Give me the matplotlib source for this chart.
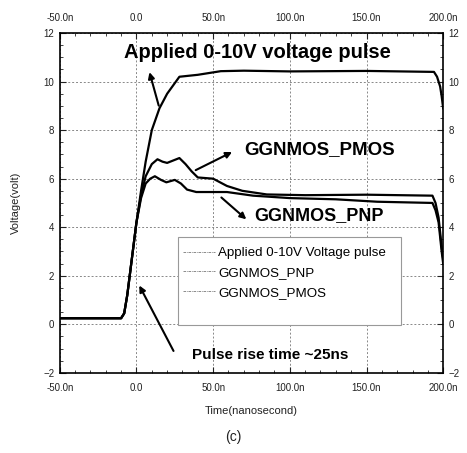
import matplotlib.pyplot as plt
from matplotlib.ticker import MultipleLocator
from matplotlib.patches import Rectangle

plt.rcParams['font.family'] = ['Liberation Sans', 'DejaVu Sans']

# time in ns, voltage in V
t_pulse = [-50, -10, -8, -6, -4, -2, 0, 3, 6, 10, 15, 20, 28, 40, 55, 70, 100, 150, 194, 196, 198, 199, 200]
v_pulse = [0.25, 0.25, 0.45, 1.2, 2.2, 3.2, 4.2, 5.5, 6.7, 8.0, 8.9, 9.5, 10.2, 10.28, 10.43, 10.45, 10.42, 10.44, 10.4, 10.2, 9.8, 9.4, 8.9]

t_pnp = [-50, -10, -8, -6, -4, -2, 0, 3, 6, 9, 12, 16, 19.5, 25, 29, 33, 39, 48, 59, 76, 100, 130, 157, 193, 195, 197, 198, 199, 200]
v_pnp = [0.25, 0.25, 0.45, 1.2, 2.2, 3.2, 4.2, 5.2, 5.8, 6.0, 6.1, 5.95, 5.85, 5.95, 5.8, 5.55, 5.45, 5.45, 5.45, 5.3, 5.2, 5.15, 5.05, 5.0, 4.7, 4.2, 3.6, 3.0, 2.5]

t_pmos = [-50, -10, -8, -6, -4, -2, 0, 3, 6, 10, 13.7, 17, 20, 24, 28, 32, 36, 40, 50, 59, 69, 85, 110, 150, 193, 195, 197, 198, 199, 200]
v_pmos = [0.25, 0.25, 0.45, 1.2, 2.2, 3.2, 4.2, 5.3, 6.1, 6.6, 6.8, 6.7, 6.65, 6.75, 6.85, 6.6, 6.3, 6.05, 6.0, 5.7, 5.5, 5.35, 5.32, 5.34, 5.3, 5.0, 4.4, 3.8, 3.2, 2.7]

x_ticks = [-50, 0, 50, 100, 150, 200]
x_labels = ['-50.0n', '0.0', '50.0n', '100.0n', '150.0n', '200.0n']
y_ticks = [-2, 0, 2, 4, 6, 8, 10, 12]

fig = plt.figure(figsize=(4.67, 4.53), dpi=100)
ax = fig.add_axes([0.128, 0.177, 0.821, 0.75])

ax.plot(t_pulse, v_pulse, color='black', lw=1.6, label='Applied 0-10V Voltage pulse')
ax.plot(t_pnp, v_pnp, color='black', lw=1.6, label='GGNMOS_PNP')
ax.plot(t_pmos, v_pmos, color='black', lw=1.6, label='GGNMOS_PMOS')

ax.set_xlim(-50, 200)
ax.set_ylim(-2, 12)
ax.set_xticks(x_ticks)
ax.set_xticklabels(x_labels)
ax.set_yticks(y_ticks)
ax.xaxis.set_minor_locator(MultipleLocator(10))
ax.yaxis.set_minor_locator(MultipleLocator(0.5))
ax.tick_params(which='both', direction='in', top=True, right=True,
               labeltop=True, labelright=True, labelsize=7, colors='#222222')
ax.tick_params(axis='x', which='major', pad=7)
ax.tick_params(axis='y', which='major', pad=4)
ax.tick_params(which='major', length=4)
ax.tick_params(which='minor', length=2)
ax.grid(True, which='major', color='#888888', linestyle=(0, (2, 2)), lw=0.7)
for s in ax.spines.values():
    s.set_linewidth(1.2)

ax.set_xlabel('Time(nanosecond)', fontsize=8, color='#222222', labelpad=10)
ax.set_ylabel('Voltage(volt)', fontsize=8, color='#222222', labelpad=16)

# legend box is taller than its entries in the original
ax.add_patch(Rectangle((26.8, -0.04), 146, 3.63, facecolor='white', edgecolor='#999999',
                       lw=0.8, zorder=4))
leg = ax.legend(loc='upper left', bbox_to_anchor=(0.305, 0.39), fontsize=9.6,
                frameon=False, handlelength=2.4, borderpad=0.5, labelspacing=0.55,
                handletextpad=0.2, borderaxespad=0)
leg.set_zorder(5)
for line in leg.get_lines():
    line.set_color('#777777')
    line.set_linewidth(0.6)
    line.set_linestyle((0, (3, 1, 1, 1)))

bold = dict(fontweight='bold', color='black')
ax.text(-8, 11.2, 'Applied 0-10V voltage pulse', fontsize=14.5, va='center', ha='left', **bold)
ax.annotate('', xy=(8, 10.5), xytext=(15, 8.9),
            arrowprops=dict(arrowstyle='-|>', color='black', lw=1.5, mutation_scale=9))
ax.text(70.5, 7.2, 'GGNMOS_PMOS', fontsize=13.5, va='center', ha='left', **bold)
ax.annotate('', xy=(64, 7.15), xytext=(37, 6.3),
            arrowprops=dict(arrowstyle='-|>', color='black', lw=1.5, mutation_scale=9))
ax.text(77, 4.5, 'GGNMOS_PNP', fontsize=13, va='center', ha='left', **bold)
ax.annotate('', xy=(73, 4.25), xytext=(54, 5.3),
            arrowprops=dict(arrowstyle='-|>', color='black', lw=1.5, mutation_scale=9))
ax.text(36, -1.25, 'Pulse rise time ~25ns', fontsize=11, va='center', ha='left', **bold)
ax.annotate('', xy=(1, 1.7), xytext=(25, -1.2),
            arrowprops=dict(arrowstyle='-|>', color='black', lw=1.5, mutation_scale=9))

fig.text(0.5, 0.035, '(c)', ha='center', va='center', fontsize=10, color='#222222')

fig.savefig('out.png', dpi=100)
